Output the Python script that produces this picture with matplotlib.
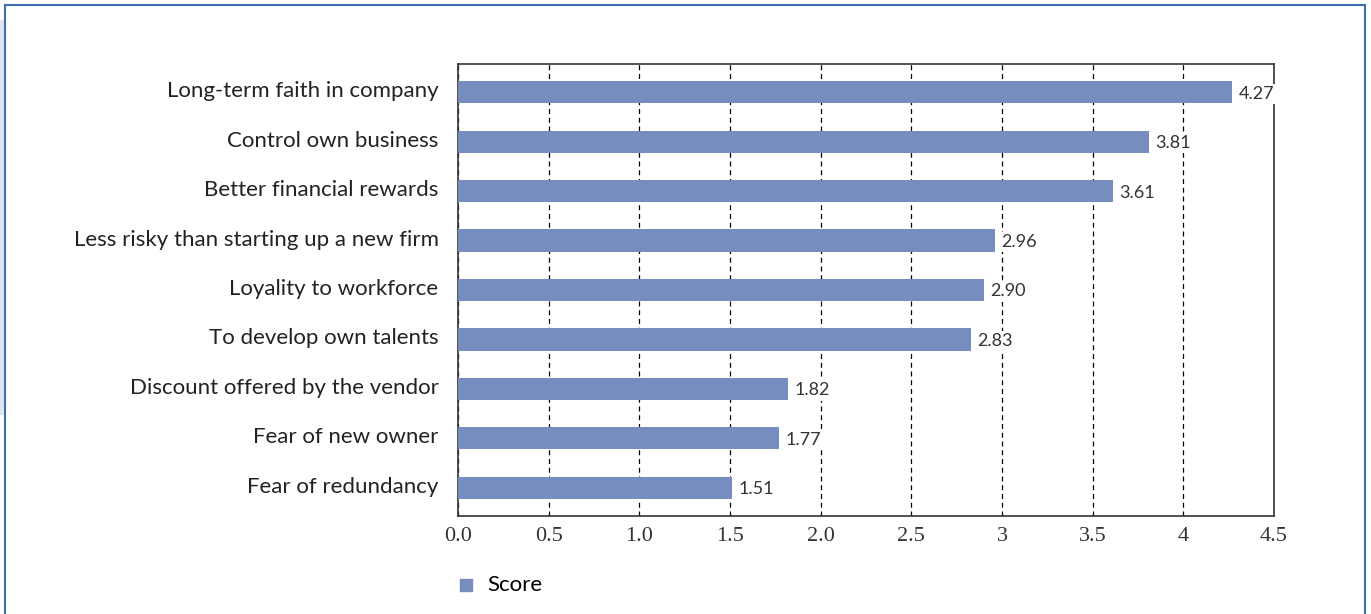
import matplotlib.pyplot as plt
import matplotlib.transforms as mtransforms
from matplotlib.patches import Rectangle

reasons = [
    'Long-term faith in company',
    'Control own business',
    'Better financial rewards',
    'Less risky than starting up a new firm',
    'Loyality to workforce',
    'To develop own talents',
    'Discount offered by the vendor',
    'Fear of new owner',
    'Fear of redundancy',
]
scores = [4.27, 3.81, 3.61, 2.96, 2.90, 2.83, 1.82, 1.77, 1.51]
tick_values = [0.0, 0.5, 1.0, 1.5, 2.0, 2.5, 3.0, 3.5, 4.0, 4.5]
tick_labels = ['0.0', '0.5', '1.0', '1.5', '2.0', '2.5', '3', '3.5', '4', '4.5']

bar_color = '#778dbf'
label_font = ['Lato', 'DejaVu Sans']
number_font = ['Liberation Serif', 'DejaVu Serif']

fig = plt.figure(figsize=(13.71, 6.14), dpi=100)
ax = fig.add_axes([458 / 1371, 1 - 516 / 614, (1274 - 458) / 1371, (516 - 64) / 614])

# outer frame
fig.patches.append(Rectangle((5 / 1371, -0.1), (1365 - 5) / 1371, 1.1 - 5 / 614,
                             transform=fig.transFigure, fill=False,
                             edgecolor='#3b6fb0', linewidth=1.5))
fig.patches.append(Rectangle((0, 1 - 415 / 614), 4 / 1371, (415 - 20) / 614,
                             transform=fig.transFigure, facecolor='#dfe3ee',
                             edgecolor='none'))

y = list(range(len(reasons)))[::-1]
ax.barh(y, scores, height=0.45, color=bar_color, zorder=3)

for yi, s in zip(y, scores):
    ax.text(s + 0.035, yi - 0.03, f'{s:.2f}', va='center', ha='left',
            fontsize=13, color='#333333', family=label_font, zorder=4,
            bbox=dict(facecolor='white', edgecolor='none', pad=1.5))

ax.set_xlim(0, 4.5)
ax.set_ylim(-0.57, 8.57)
ax.set_xticks(tick_values)
ax.set_xticklabels(tick_labels, family=number_font, fontsize=16, color='#333333')
ax.set_yticks(y)
ax.set_yticklabels(reasons, family=label_font, fontsize=16, color='#222222')
ax.tick_params(axis='both', length=0)
ax.tick_params(axis='y', pad=14)
ax.tick_params(axis='x', pad=8)

# category labels sit a little above the bar centres
lift = mtransforms.ScaledTranslation(0, 3 / 100, fig.dpi_scale_trans)
for lab in ax.get_yticklabels():
    lab.set_transform(lab.get_transform() + lift)

ax.grid(axis='x', linestyle=(0, (4, 3)), color='black', linewidth=0.9, zorder=1)
for sp in ax.spines.values():
    sp.set_color('#333333')
    sp.set_linewidth(1.2)

# legend below the axes
ax.scatter([], [], marker='s', s=75, color=bar_color, label='Score')
leg = ax.legend(loc='upper left', bbox_to_anchor=(-0.020, -0.11), frameon=False,
                prop={'family': label_font, 'size': 16}, handlelength=1.4,
                handletextpad=0.25, borderaxespad=0)

fig.savefig('out.png', dpi=100)
